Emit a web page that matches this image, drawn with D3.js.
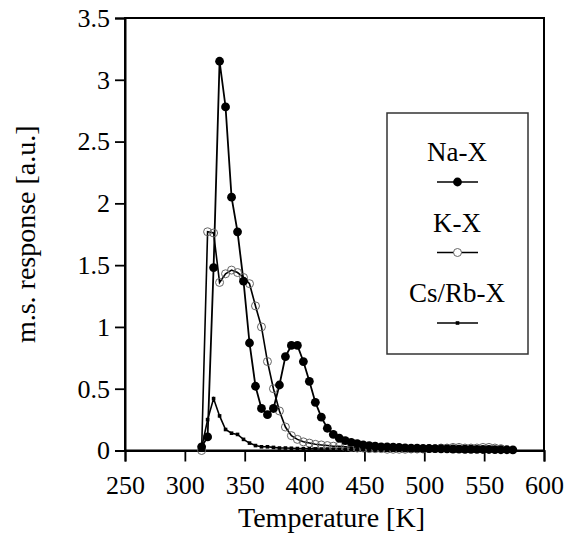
<!DOCTYPE html>
<html>
<head>
<meta charset="utf-8">
<script src="https://cdn.jsdelivr.net/npm/d3@7"></script>
<style>
  body { margin: 0; background: #fff; }
  text { font-family: "Liberation Serif", "Times New Roman", serif; fill: #000; }
</style>
</head>
<body>
<div id="chart"></div>
<script>
// temperatures [K] (one reading every ~5 K)
const temps = [314, 319, 324, 329, 334, 339, 344, 349, 354, 359, 364, 369, 374, 379, 384,
  389, 394, 399, 404, 409, 414, 419, 424, 429, 434, 439, 444, 449, 454, 459, 464, 469,
  474, 479, 484, 489, 494, 499, 504, 509, 514, 519, 524, 529, 534, 539, 544, 549, 554,
  559, 564, 569, 574];

const naX = [0.03, 0.11, 1.48, 3.15, 2.78, 2.05, 1.77, 1.37, 0.87, 0.52, 0.34, 0.29, 0.34,
  0.53, 0.76, 0.85, 0.85, 0.72, 0.56, 0.39, 0.27, 0.18, 0.13, 0.10, 0.08, 0.065, 0.055,
  0.045, 0.04, 0.035, 0.03, 0.03, 0.028, 0.025, 0.022, 0.02, 0.02, 0.018, 0.016, 0.015,
  0.014, 0.013, 0.012, 0.011, 0.01, 0.01, 0.009, 0.008, 0.008, 0.007, 0.006, 0.006, 0.005];

const kX = [0.0, 1.77, 1.76, 1.36, 1.43, 1.46, 1.44, 1.40, 1.35, 1.17, 1.00, 0.72, 0.50,
  0.32, 0.19, 0.12, 0.09, 0.07, 0.06, 0.05, 0.045, 0.04, 0.035, 0.035, 0.03, 0.025, 0.02,
  0.02, 0.015, 0.015, 0.015, 0.01, 0.01, 0.01, 0.01, 0.012, 0.012, 0.012, 0.015, 0.015,
  0.02, 0.02, 0.025, 0.025, 0.02, 0.02, 0.02, 0.025, 0.025, 0.02, 0.015];

const csRbX = [0.02, 0.25, 0.42, 0.28, 0.17, 0.14, 0.13, 0.09, 0.06, 0.04, 0.03, 0.03,
  0.025, 0.02, 0.02, 0.018, 0.016, 0.015, 0.014, 0.013, 0.012, 0.012, 0.011, 0.011, 0.01,
  0.01, 0.01, 0.01, 0.009, 0.009, 0.009, 0.008, 0.008, 0.008, 0.008, 0.007, 0.007, 0.007,
  0.007, 0.006, 0.006, 0.006, 0.006, 0.006, 0.005, 0.005, 0.005, 0.005, 0.005, 0.005,
  0.005, 0.005, 0.005];

const xTicks = [250, 300, 350, 400, 450, 500, 550, 600];
const yTicks = [0, 0.5, 1, 1.5, 2, 2.5, 3, 3.5];
const seriesNames = ["Na-X", "K-X", "Cs/Rb-X"];

class TpdChart {
  constructor(parentElement) {
    this.parentElement = parentElement;
    this.initVis();
  }

  initVis() {
    let vis = this;

    vis.margin = { top: 18, right: 25, bottom: 86.5, left: 125 };
    vis.width = 569 - vis.margin.left - vis.margin.right;
    vis.height = 537 - vis.margin.top - vis.margin.bottom;

    vis.svg = d3.select("#" + vis.parentElement)
      .append("svg")
      .attr("width", 569)
      .attr("height", 537)
      .append("g")
      .attr("transform", "translate(" + vis.margin.left + "," + vis.margin.top + ")");

    vis.x = d3.scaleLinear().domain([250, 600]).range([0, vis.width]);
    vis.y = d3.scaleLinear().domain([0, 3.5]).range([vis.height, 0]);

    vis.line = d3.line()
      .x((d) => vis.x(d[0]))
      .y((d) => vis.y(d[1]));

    vis.wrangleData();
  }

  wrangleData() {
    let vis = this;
    // pair every value with its temperature
    vis.displayData = {
      na: naX.map((v, i) => [temps[i], v]),
      k: kX.map((v, i) => [temps[i], v]),
      cs: csRbX.map((v, i) => [temps[i], v]),
    };
    vis.updateVis();
  }

  updateVis() {
    let vis = this;

    // frame
    vis.svg.append("rect")
      .attr("width", vis.width)
      .attr("height", vis.height)
      .attr("fill", "none")
      .attr("stroke", "#000")
      .attr("stroke-width", 2);

    // axes
    let xAxis = d3.axisBottom(vis.x).tickValues(xTicks).tickSize(11).tickPadding(14)
      .tickFormat(d3.format("d"));
    let yAxis = d3.axisLeft(vis.y).tickValues(yTicks).tickSize(10).tickPadding(5)
      .tickFormat((d) => d);

    vis.svg.append("g")
      .attr("class", "x-axis")
      .attr("transform", "translate(0," + vis.height + ")")
      .call(xAxis);
    vis.svg.append("g")
      .attr("class", "y-axis")
      .call(yAxis);

    vis.svg.selectAll(".x-axis, .y-axis").selectAll(".domain")
      .attr("stroke", "#000").attr("stroke-width", 2);
    vis.svg.selectAll(".tick line").attr("stroke", "#000").attr("stroke-width", 1.8);
    vis.svg.selectAll(".tick text")
      .style("font-family", '"Liberation Serif", "Times New Roman", serif')
      .style("font-size", "26px");

    // axis titles
    vis.svg.append("text")
      .attr("x", vis.width / 2 - 3)
      .attr("y", vis.height + 76)
      .attr("text-anchor", "middle")
      .style("font-size", "28px")
      .text("Temperature [K]");

    vis.svg.append("text")
      .attr("transform", "translate(" + (-90) + "," + vis.height / 2 + ") rotate(-90)")
      .attr("text-anchor", "middle")
      .style("font-size", "28px")
      .text("m.s. response [a.u.]");

    // lines
    vis.svg.append("path").datum(vis.displayData.k)
      .attr("d", vis.line).attr("fill", "none").attr("stroke", "#000").attr("stroke-width", 1.6);
    vis.svg.append("path").datum(vis.displayData.cs)
      .attr("d", vis.line).attr("fill", "none").attr("stroke", "#000").attr("stroke-width", 1.6);
    vis.svg.append("path").datum(vis.displayData.na)
      .attr("d", vis.line).attr("fill", "none").attr("stroke", "#000").attr("stroke-width", 1.8);

    // markers
    vis.svg.selectAll(".k-dot").data(vis.displayData.k).enter()
      .append("circle").attr("class", "k-dot")
      .attr("cx", (d) => vis.x(d[0])).attr("cy", (d) => vis.y(d[1]))
      .attr("r", 4).attr("fill", "none").attr("stroke", "#666").attr("stroke-width", 1);

    vis.svg.selectAll(".cs-dot").data(vis.displayData.cs).enter()
      .append("rect").attr("class", "cs-dot")
      .attr("x", (d) => vis.x(d[0]) - 1.8).attr("y", (d) => vis.y(d[1]) - 1.8)
      .attr("width", 3.6).attr("height", 3.6).attr("fill", "#000");

    vis.svg.selectAll(".na-dot").data(vis.displayData.na).enter()
      .append("circle").attr("class", "na-dot")
      .attr("cx", (d) => vis.x(d[0])).attr("cy", (d) => vis.y(d[1]))
      .attr("r", 4.4).attr("fill", "#000");

    // legend
    let legend = vis.svg.append("g")
      .attr("class", "legend")
      .attr("transform", "translate(" + (387 - vis.margin.left) + "," + (113 - vis.margin.top) + ")");

    legend.append("rect")
      .attr("width", 141).attr("height", 241)
      .attr("fill", "#fff").attr("stroke", "#333").attr("stroke-width", 1.5);

    seriesNames.forEach((name, i) => {
      let g = legend.append("g").attr("transform", "translate(70," + (i * 70.5) + ")");
      g.append("text")
        .attr("x", 0).attr("y", 48)
        .attr("text-anchor", "middle")
        .style("font-size", "27px")
        .text(name);
      g.append("line")
        .attr("x1", -20).attr("x2", 21).attr("y1", 69).attr("y2", 69)
        .attr("stroke", "#000").attr("stroke-width", 1.6);
      if (i === 0) {
        g.append("circle").attr("cx", 0.5).attr("cy", 69).attr("r", 4.4).attr("fill", "#000");
      } else if (i === 1) {
        g.append("circle").attr("cx", 0.5).attr("cy", 69).attr("r", 4)
          .attr("fill", "#fff").attr("stroke", "#666").attr("stroke-width", 1);
      } else {
        g.append("rect").attr("x", -1.3).attr("y", 67.2).attr("width", 3.6).attr("height", 3.6)
          .attr("fill", "#000");
      }
    });
  }
}

new TpdChart("chart");
</script>
</body>
</html>
